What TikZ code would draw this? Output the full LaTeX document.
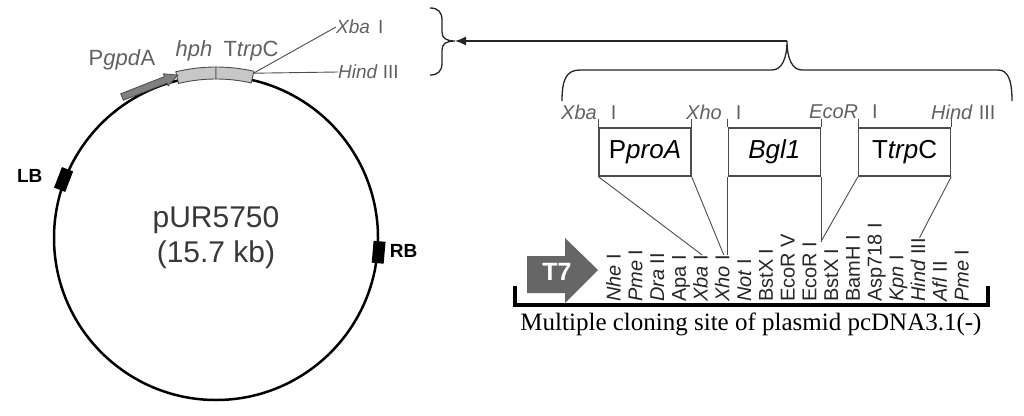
\documentclass[tikz,border=0pt]{standalone}
\usepackage{fontspec}
\setmainfont{Liberation Sans}
\newfontfamily\capfont{Liberation Serif}
\usetikzlibrary{positioning,calc,arrows.meta}
\colorlet{ink}{black!70}
\colorlet{lab}{black!62}
\tikzset{
  plasmid/.style = { draw, circle, line width=2.5pt, minimum size=324pt, inner sep=0pt,
    align=center, text=black!78, font=\fontsize{30}{35}\selectfont },
  border/.style  = { fill=black, inner sep=0pt, minimum width=12pt, minimum height=22pt },
  bordlab/.style = { inner sep=0pt, font=\bfseries\fontsize{19}{21}\selectfont },
  genebar/.style = { draw=ink, fill=black!22, line width=0.9pt },
  genelab/.style = { text=lab, inner sep=0pt, font=\fontsize{22}{24}\selectfont },
  enzlab/.style  = { text=lab, inner sep=0pt, anchor=west, font=\fontsize{20}{22}\selectfont },
  genebox/.style = { draw=ink, line width=1.3pt, minimum width=92pt, minimum height=48pt,
    inner sep=0pt, font=\fontsize{26}{28}\selectfont },
  site/.style    = { rotate=90, anchor=west, inner sep=0pt, text height=14pt, text depth=3pt,
    text=black!85, font=\fontsize{20}{22}\selectfont },
  cut/.style     = { draw=ink, line width=0.9pt },
  brace/.style   = { draw=black!85, line width=1.3pt }
}
\begin{document}
\begin{tikzpicture}[x=1pt,y=-1pt]
  \useasboundingbox (0,0) rectangle (1024,415);
  % plasmid
  \node[plasmid] (pur) at (216,238) {pUR5750\\(15.7 kb)};
  \node[border, rotate=159] (lbb) at (pur.159) {};
  \node[border, rotate=355] (rbb) at (pur.355) {};
  \node[bordlab, anchor=east] (lbl) at ([xshift=-21pt,yshift=4pt]lbb.center) {LB};
  \node[bordlab, anchor=west] (rbl) at ([xshift=11pt,yshift=1pt]rbb.center) {RB};
  % cassette on the ring
  \begin{scope}[shift={(pur.center)}]
    \draw[genebar] (-103.6:159) arc[start angle=-103.6, end angle=-90, radius=159]
      -- (-90:171) arc[start angle=-90, end angle=-103.6, radius=171] -- cycle;
    \draw[genebar] (-90:159) arc[start angle=-90, end angle=-77.2, radius=159]
      -- (-77.2:171) arc[start angle=-77.2, end angle=-90, radius=171] -- cycle;
    \coordinate (trpend) at (-77.2:169);
  \end{scope}
  \begin{scope}[shift={(122,97)}, rotate=21.4]
    \draw[ink, fill=black!50, line width=0.8pt] (0,-3.5) -- (47,-3.5) -- (47,-6.5) -- (60,0)
      -- (47,6.5) -- (47,3.5) -- (0,3.5) -- cycle;
  \end{scope}
  \node[genelab] (gpdl) at (122,60) {P\textit{gpd}A};
  \node[genelab] (hphl) at (194,51) {\textit{hph}};
  \node[genelab] (trpl) at (251,51) {T\textit{trp}C};
  \node[enzlab, font=\fontsize{19}{21}\selectfont] (xbal) at (336,27) {\textit{Xba}\hspace{8pt}I};
  \node[enzlab, font=\fontsize{19}{21}\selectfont] (hindl) at (338,72) {\textit{Hind}\hspace{5pt}III};
  \draw[cut] (trpend) -- (xbal.west);
  \draw[cut] (trpend) -- (hindl.west);
  % braces and arrow
  \coordinate (smalltip) at (455,41);
  \coordinate (bigtip) at (787,41);
  \draw[brace] (430,8) .. controls (438,8) and (442,12) .. (442,20) -- (442,32)
    .. controls (442,38) and (446,41) .. (smalltip) .. controls (446,41) and (442,44) .. (442,50)
    -- (442,63) .. controls (442,71) and (438,75) .. (430,75);
  \draw[brace] (562,101) .. controls (562,80) and (566,70) .. (580,70) -- (772,70)
    .. controls (782,70) and (787,58) .. (bigtip) .. controls (787,58) and (792,70) .. (802,70)
    -- (998,70) .. controls (1008,70) and (1012,80) .. (1012,101);
  \draw[brace, -{Latex[length=11pt,width=9pt]}] (bigtip) -- (smalltip);
  % insert
  \node[enzlab] (xbar) at (561,112) {\textit{Xba}\hspace{14pt}I};
  \node[enzlab] (xhor) at (686,112) {\textit{Xho}\hspace{14pt}I};
  \node[enzlab] (ecor) at (809,112) {\textit{EcoR}\hspace{14pt}I};
  \node[enzlab] (hindr) at (931,112) {\textit{Hind}\hspace{6pt}III};
  \node[genebox] (ppro) at (645,152) {P\textit{proA}};
  \node[genebox, right=36pt of ppro] (bgl) {\textit{Bgl1}};
  \node[genebox, right=37pt of bgl] (ttrp) {T\textit{trp}C};
  \foreach \b in {ppro,bgl,ttrp} {
    \draw[cut] (\b.north west) -- ++(0,-8);
    \draw[cut] (\b.north east) -- ++(0,-8);
  }
  % cloning site
  \fill[black!60] (527,256) -- (565,256) -- (565,238) -- (598,270) -- (565,303) -- (565,293)
    -- (527,293) -- cycle;
  \node[text=white, inner sep=0pt, font=\bfseries\fontsize{25}{27}\selectfont] (t7) at (557,272) {T7};
  \foreach \lab [count=\i from 0] in {{\textit{Nhe} I},{\textit{Pme} I},{\textit{Dra} II},{Apa I},
      {\textit{Xba} I},{\textit{Xho} I},{\textit{Not} I},{BstX I},{EcoR V},{EcoR I},{BstX I},
      {BamH I},{Asp718 I},{\textit{Kpn} I},{\textit{Hind} III},{\textit{Afl} II},{\textit{Pme} I}}
    \node[site] (s\i) at (615+21.75*\i,302) {\lab};
  \draw[cut] (ppro.south west) -- (s4.east);
  \draw[cut] (ppro.south east) -- (s5.east);
  \draw[cut] (bgl.south west) -- (bgl.south west |- s5.east);
  \draw[cut] (bgl.south east) -- (bgl.south east |- s9.east);
  \draw[cut] (ttrp.south west) -- (bgl.south east |- s9.east);
  \draw[cut] (ttrp.south east) -- (s14.east);
  \draw[line width=3.5pt] (515,286) -- (515,305) -- (988,305) -- (988,286);
  \node[inner sep=0pt, font=\capfont\fontsize{25}{27}\selectfont] (mcs) at (751,324)
    {Multiple cloning site of plasmid pcDNA3.1(-)};
\end{tikzpicture}
\end{document}
